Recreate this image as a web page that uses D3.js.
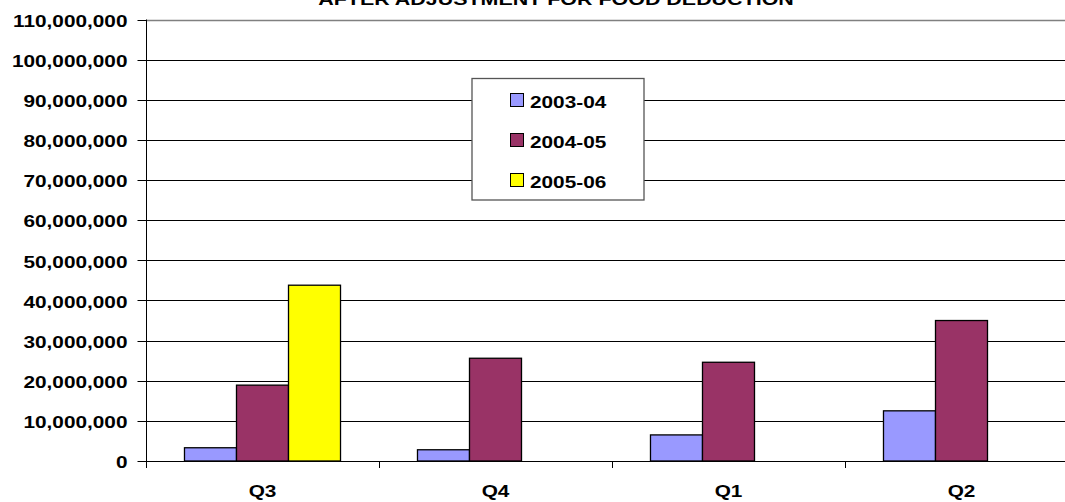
<!DOCTYPE html>
<html>
<head>
<meta charset="utf-8">
<script src="https://cdn.jsdelivr.net/npm/d3@7"></script>
<style>
  html, body { margin: 0; padding: 0; background: #fff; }
  svg { display: block; }
  text { font-family: "Liberation Sans", Arial, sans-serif; font-weight: bold; fill: #000; }
</style>
</head>
<body>
<svg id="chart" width="1065" height="502"></svg>
<script>
const title = "AFTER ADJUSTMENT FOR FOOD DEDUCTION";
const categories = ["Q3", "Q4", "Q1", "Q2"];
const seriesNames = ["2003-04", "2004-05", "2005-06"];
const values2003 = [3300000, 2800000, 6500000, 12500000];
const values2004 = [18900000, 25600000, 24600000, 35000000];
const values2005 = [43800000, null, null, null];
const yTicks = [0, 10000000, 20000000, 30000000, 40000000, 50000000, 60000000, 70000000, 80000000, 90000000, 100000000, 110000000];
const colors = ["#9999FF", "#993366", "#FFFF00"];

const allSeries = [values2003, values2004, values2005];
const svg = d3.select("#chart");
const SX = 1.3; // horizontal stretch of the reference's text

const plot = { left: 146, right: 1078, top: 19.5, bottom: 461 };

const y = d3.scaleLinear().domain([0, 110000000]).range([plot.bottom, plot.top]);
const x = d3.scaleBand().domain(categories).range([plot.left, plot.right]).padding(0);
const xs = d3.scaleBand().domain(seriesNames).range([0, x.bandwidth()]).paddingInner(0).paddingOuter(0.74);

// gridlines
svg.append("g").selectAll("line").data(yTicks.filter(d => d > 0)).join("line")
  .attr("x1", plot.left).attr("x2", 1065)
  .attr("y1", d => Math.round(y(d)) + 0.5).attr("y2", d => Math.round(y(d)) + 0.5)
  .attr("stroke", d => d === 110000000 ? "#808080" : "#000")
  .attr("stroke-width", d => d === 110000000 ? 1.5 : 1);

// bars
const rows = [];
categories.forEach((c, i) => {
  seriesNames.forEach((s, j) => {
    const v = allSeries[j][i];
    if (v != null) rows.push({ c, s, v, j });
  });
});
svg.append("g").selectAll("rect").data(rows).join("rect")
  .attr("x", d => x(d.c) + xs(d.s))
  .attr("y", d => y(d.v))
  .attr("width", xs.bandwidth())
  .attr("height", d => y(0) - y(d.v))
  .attr("fill", d => colors[d.j])
  .attr("stroke", "#000")
  .attr("stroke-width", 1.3);

// y axis
const yAxisG = svg.append("g").attr("transform", `translate(${plot.left + 0.5},0)`);
yAxisG.append("line").attr("x1", 0).attr("x2", 0).attr("y1", plot.top).attr("y2", plot.bottom + 7).attr("stroke", "#000");
yAxisG.selectAll("line.tk").data(yTicks).join("line").attr("class", "tk")
  .attr("x1", -9).attr("x2", 0)
  .attr("y1", d => Math.round(y(d)) + 0.5).attr("y2", d => Math.round(y(d)) + 0.5)
  .attr("stroke", "#000");
const fmt = d3.format(",");
yAxisG.selectAll("text").data(yTicks).join("text")
  .attr("transform", d => `translate(-19,${y(d) + 7.3}) scale(${SX},1)`)
  .attr("text-anchor", "end")
  .attr("font-size", 16)
  .text(d => fmt(d));

// x axis
const xAxisG = svg.append("g");
xAxisG.append("line").attr("x1", plot.left).attr("x2", 1065)
  .attr("y1", Math.round(y(0)) + 0.5).attr("y2", Math.round(y(0)) + 0.5).attr("stroke", "#000");
const boundaries = categories.map(c => x(c));
xAxisG.selectAll("line.tk").data(boundaries.slice(1)).join("line").attr("class", "tk")
  .attr("x1", d => Math.round(d) + 0.5).attr("x2", d => Math.round(d) + 0.5)
  .attr("y1", plot.bottom).attr("y2", plot.bottom + 7).attr("stroke", "#000");
xAxisG.selectAll("text").data(categories).join("text")
  .attr("transform", d => `translate(${x(d) + x.bandwidth() / 2},497) scale(${SX},1)`)
  .attr("text-anchor", "middle")
  .attr("font-size", 16)
  .text(d => d);

// title
svg.append("text")
  .attr("transform", `translate(556,5) scale(${SX},1)`)
  .attr("text-anchor", "middle")
  .attr("font-size", 16.5)
  .text(title);

// legend
const lg = svg.append("g").attr("transform", "translate(472,78.5)");
lg.append("rect").attr("x", 0).attr("y", 0).attr("width", 172).attr("height", 121.5)
  .attr("fill", "#fff").attr("stroke", "#555").attr("stroke-width", 1.3);
const items = lg.selectAll("g.item").data(seriesNames).join("g").attr("class", "item")
  .attr("transform", (d, i) => `translate(0,${i * 40})`);
items.append("rect").attr("x", 38.5).attr("y", 15).attr("width", 13).attr("height", 13)
  .attr("fill", (d, i) => colors[i]).attr("stroke", "#000").attr("stroke-width", 1);
items.append("text")
  .attr("transform", `translate(58,29) scale(${SX},1)`)
  .attr("font-size", 16)
  .text(d => d);
</script>
</body>
</html>
